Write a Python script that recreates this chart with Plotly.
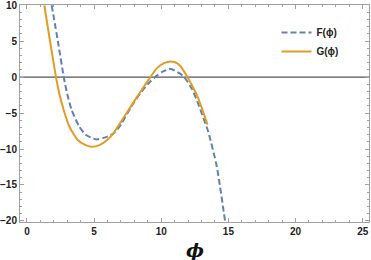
import plotly.graph_objects as go

# F(phi) dashed blue
phi_F = [1.84, 2.3, 2.74, 2.99, 3.33, 3.9, 4.4, 5.15, 5.7, 6.4, 7.0, 7.76, 8.5, 9.18, 9.6, 10.1, 10.67, 11.25, 11.71, 12.3, 12.77, 13.14, 13.5, 14.13, 14.75]
F_vals = [10, 5.0, 0, -2.3, -4.6, -6.9, -8.05, -8.66, -8.45, -7.9, -6.6, -4.1, -2.1, -0.6, 0.1, 0.75, 1.15, 0.65, 0, -1.7, -3.8, -5.7, -7.6, -12.4, -20]

# G(phi) solid orange
phi_G = [1.29, 1.7, 2.16, 2.41, 2.74, 3.16, 3.78, 4.3, 4.78, 5.4, 5.97, 6.4, 7.0, 7.76, 8.5, 9.19, 9.68, 10.2, 10.72, 11.2, 11.54, 11.95, 12.3, 12.65, 13.02, 13.44]
G_vals = [10, 5.2, 0, -2.3, -4.6, -6.9, -8.75, -9.4, -9.68, -9.45, -8.75, -7.9, -6.2, -4.0, -1.9, 0, 1.25, 1.95, 2.17, 1.9, 1.25, 0, -1.2, -2.46, -4.3, -6.6]

x_ticks = [0, 5, 10, 15, 20, 25]
y_ticks = [-20, -15, -10, -5, 0, 5, 10]

BLUE = "#5E81B5"
ORANGE = "#E19C24"

fig = go.Figure()
fig.add_trace(go.Scatter(x=phi_F, y=F_vals, mode="lines", name="<b>F(ϕ)</b>",
                         line=dict(color=BLUE, width=2, dash="6px,3px", shape="spline", smoothing=0.6)))
fig.add_trace(go.Scatter(x=phi_G, y=G_vals, mode="lines", name="<b>G(ϕ)</b>",
                         line=dict(color=ORANGE, width=2, shape="spline", smoothing=0.6)))

axis_common = dict(
    showgrid=False, zeroline=False, showline=True, linecolor="#A0A0A0", linewidth=1,
    mirror="allticks", ticks="inside", ticklen=4, tickcolor="#A0A0A0", tickwidth=1,
    tickfont=dict(family="Liberation Sans", size=10, color="#222"), automargin=False,
    ticklabeloverflow="allow",
)

fig.update_layout(
    width=371, height=260,
    margin=dict(l=20, r=2, t=5, b=38, autoexpand=False),
    paper_bgcolor="white", plot_bgcolor="white",
    showlegend=True,
    legend=dict(x=0.735, y=0.94, xanchor="left", yanchor="top", bgcolor="rgba(0,0,0,0)",
                font=dict(family="Liberation Sans", size=10, color="#222"),
                tracegroupgap=0, itemwidth=30),
    xaxis=dict(range=[-0.52, 25.47], tickvals=x_ticks, ticktext=[f"<b>{v}</b>" for v in x_ticks],
               minor=dict(ticks="inside", ticklen=2, tickcolor="#A0A0A0", dtick=1, tick0=0),
               **axis_common),
    yaxis=dict(range=[-20.15, 10.03], tickvals=y_ticks, ticktext=[f"<b>{v}</b>".replace("-", "−") for v in y_ticks],
               minor=dict(ticks="inside", ticklen=2, tickcolor="#A0A0A0", dtick=1, tick0=0),
               **axis_common),
    font=dict(family="Liberation Sans"),
)
fig.add_annotation(text="<b><i>ϕ</i></b>", xref="paper", yref="paper", x=0.5, y=-0.13,
                   xanchor="center", yanchor="middle", showarrow=False,
                   font=dict(family="DejaVu Serif", size=19, color="#111"))
fig.add_hline(y=0, line=dict(color="#555", width=1.2), layer="below")

fig.write_html("out.html", config={"displayModeBar": False},
               post_script="document.body.style.margin='0';document.body.style.padding='0';")
